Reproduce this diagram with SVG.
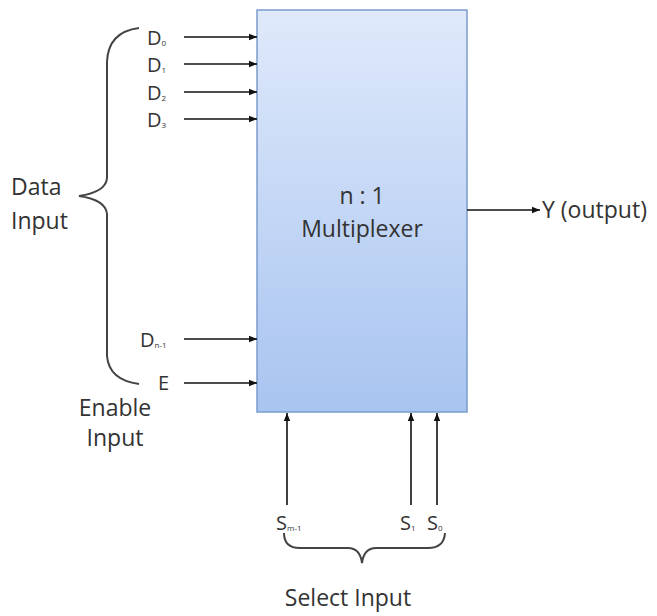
<svg xmlns="http://www.w3.org/2000/svg" width="657" height="616" viewBox="0 0 657 616">
<style>
text{font-family:"Open Sans","Liberation Sans",sans-serif;fill:#333;font-size:23px}
.d{font-size:20px}
.sub{font-size:8px}
.w{stroke:#111;stroke-width:1.6;fill:none}
.br{stroke:#444;stroke-width:2;fill:none}
</style>
<defs>
<linearGradient id="g" x1="0" y1="0" x2="0" y2="1">
<stop offset="0" stop-color="#dfe9fb"/>
<stop offset="1" stop-color="#a8c4f0"/>
</linearGradient>
<marker id="ah" viewBox="0 0 10 10" refX="10" refY="5" markerWidth="8" markerHeight="8" markerUnits="userSpaceOnUse" orient="auto">
<path d="M0,1 L10,5 L0,9 Z" fill="#111"/>
</marker>
</defs>
<rect width="657" height="616" fill="#fff"/>
<g id="mux">
<rect x="257" y="10" width="210" height="402" fill="url(#g)" stroke="#7b9ccb" stroke-width="1.5"/>
<text x="362" y="204" text-anchor="middle">n : 1</text>
<text x="362" y="237" text-anchor="middle">Multiplexer</text>
</g>
<g id="connectors">
<line class="w" x1="184" y1="37" x2="257" y2="37" marker-end="url(#ah)"/>
<line class="w" x1="184" y1="64" x2="257" y2="64" marker-end="url(#ah)"/>
<line class="w" x1="184" y1="92" x2="257" y2="92" marker-end="url(#ah)"/>
<line class="w" x1="184" y1="119" x2="257" y2="119" marker-end="url(#ah)"/>
<line class="w" x1="184" y1="339" x2="257" y2="339" marker-end="url(#ah)"/>
<line class="w" x1="184" y1="383" x2="257" y2="383" marker-end="url(#ah)"/>
<line class="w" x1="467" y1="210" x2="540" y2="210" marker-end="url(#ah)"/>
<line class="w" x1="287" y1="505" x2="287" y2="413" marker-end="url(#ah)"/>
<line class="w" x1="411" y1="505" x2="411" y2="413" marker-end="url(#ah)"/>
<line class="w" x1="437" y1="505" x2="437" y2="413" marker-end="url(#ah)"/>
</g>
<g id="braces">
<path class="br" d="M139,28 Q108,32 107,62 L107,178 Q106,192 79,196 Q106,200 107,214 L107,356 Q109,380 139,384"/>
<path class="br" d="M284,533 Q284,548 300,548 L348,548 Q360,548 362,563 Q364,548 376,548 L428,548 Q444,548 445,533"/>
</g>
<g id="labels">
<text class="d" x="147" y="45">D<tspan class="sub" dy="1">0</tspan></text>
<text class="d" x="147" y="72">D<tspan class="sub" dy="1">1</tspan></text>
<text class="d" x="147" y="100">D<tspan class="sub" dy="1">2</tspan></text>
<text class="d" x="147" y="127">D<tspan class="sub" dy="1">3</tspan></text>
<text class="d" x="140" y="347">D<tspan class="sub" dy="1">n-1</tspan></text>
<text class="d" x="158" y="390">E</text>
<text x="11" y="195">Data</text>
<text x="11" y="229">Input</text>
<text x="115" y="416" text-anchor="middle">Enable</text>
<text x="115" y="446" text-anchor="middle">Input</text>
<text x="542" y="218">Y (output)</text>
<text class="d" x="276" y="530">S<tspan class="sub" dy="1">m-1</tspan></text>
<text class="d" x="400" y="530">S<tspan class="sub" dy="1">1</tspan></text>
<text class="d" x="427" y="530">S<tspan class="sub" dy="1">0</tspan></text>
<text x="348" y="606" text-anchor="middle">Select Input</text>
</g>
</svg>
